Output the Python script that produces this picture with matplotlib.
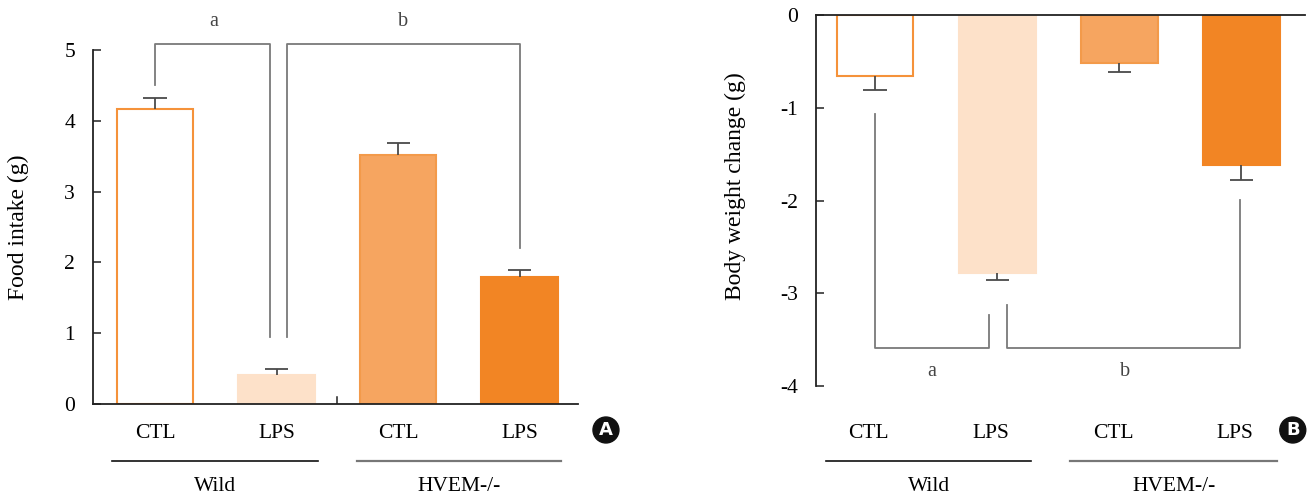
import matplotlib
matplotlib.use("Agg")
import matplotlib.pyplot as plt
import matplotlib.transforms as mtransforms

plt.rcParams["font.family"] = ["Liberation Serif", "DejaVu Serif"]

# data
conditions = ["CTL", "LPS", "CTL", "LPS"]
groups = ["Wild", "HVEM-/-"]
food_mean = [4.17, 0.41, 3.52, 1.80]
food_err = [0.15, 0.08, 0.17, 0.09]
weight_mean = [-0.65, -2.78, -0.52, -1.61]
weight_err = [0.16, 0.08, 0.09, 0.17]

FILLS = ["white", "#FDE1C9", "#F6A560", "#F28524"]
EDGES = ["#F5923A", "#FDE1C9", "#F39A4A", "#F28524"]
AXIS_COLOR = "#222222"
BRACKET_COLOR = "#7a7a7a"
ERR_COLOR = "#4a4a4a"
FS = 15.5

W, H = 1308, 498
fig = plt.figure(figsize=(W / 100, H / 100), dpi=100)


def px_axes(left, top, right, bottom):
    return fig.add_axes([left / W, 1 - bottom / H, (right - left) / W, (bottom - top) / H])


def fy(py):
    return 1 - py / H


def draw_bars(ax, means, errs, up):
    x = list(range(len(means)))
    ax.bar(x, means, width=0.63, color=FILLS, edgecolor=EDGES, linewidth=1.5, zorder=2)
    # one-sided error bars, cap only on the far end
    sign = 1 if up else -1
    ends = [m + sign * e for m, e in zip(means, errs)]
    ax.vlines(x, means, ends, color=ERR_COLOR, lw=1.3, zorder=3)
    ax.hlines(ends, [i - 0.095 for i in x], [i + 0.095 for i in x], color=ERR_COLOR, lw=1.3, zorder=3)


def bracket(ax, pts):
    xs, ys = zip(*pts)
    ax.plot(xs, ys, color=BRACKET_COLOR, lw=1.3, clip_on=False, zorder=1)


def under_labels(ax, label_dx, wild_span, hvem_span, badge_x, badge):
    tr = mtransforms.blended_transform_factory(ax.transData, fig.transFigure)
    for i, lab in enumerate(conditions):
        ax.text(i + label_dx, fy(433), lab, transform=tr, ha="center", va="center", fontsize=FS)
    ax.plot(wild_span, [fy(461)] * 2, transform=tr, color="#111111", lw=1.2, clip_on=False)
    ax.plot(hvem_span, [fy(461)] * 2, transform=tr, color="#777777", lw=1.6, clip_on=False)
    ax.text(sum(wild_span) / 2, fy(486), groups[0], transform=tr, ha="center", va="center", fontsize=FS)
    ax.text(sum(hvem_span) / 2, fy(486), groups[1], transform=tr, ha="center", va="center", fontsize=FS)
    ax.text(badge_x, fy(430), badge, transform=tr, ha="center", va="center", color="white",
            fontsize=13, fontweight="bold", family="DejaVu Sans",
            bbox=dict(boxstyle="circle,pad=0.22", fc="#111111", ec="#111111"))


# ---- panel A: food intake
axA = px_axes(93, 50, 578, 404)
draw_bars(axA, food_mean, food_err, up=True)
axA.set_xlim(-0.51, 3.48)
axA.set_ylim(0, 5)
axA.set_yticks(range(0, 6))
axA.set_xticks([])
for s in ["top", "right"]:
    axA.spines[s].set_visible(False)
for s in ["left", "bottom"]:
    axA.spines[s].set_color(AXIS_COLOR)
    axA.spines[s].set_linewidth(1.3)
axA.tick_params(axis="y", direction="in", length=6, width=1.1, color=AXIS_COLOR, pad=13, labelsize=FS)
axA.plot([1.5, 1.5], [0, 0.1], color=AXIS_COLOR, lw=1.1)
bracket(axA, [(0, 4.5), (0, 5.09), (0.945, 5.09), (0.945, 0.95)])
bracket(axA, [(1.085, 0.95), (1.085, 5.09), (3, 5.09), (3, 2.2)])
axA.text(0.48, 5.40, "a", ha="center", va="center", fontsize=FS - 1, color="#444444")
axA.text(2.04, 5.40, "b", ha="center", va="center", fontsize=FS - 1, color="#444444")
fig.text(18 / W, fy(227), "Food intake (g)", rotation=90, ha="center", va="center", fontsize=FS + 1.5)
under_labels(axA, 0, [-0.35, 1.34], [1.66, 3.34], 3.71, "A")

# ---- panel B: body weight change
axB = px_axes(816, 15.3, 1305, 386)
draw_bars(axB, weight_mean, weight_err, up=False)
axB.set_xlim(-0.483, 3.52)
axB.set_ylim(-4, 0)
axB.set_yticks(range(-4, 1))
axB.set_yticklabels([str(v) for v in range(-4, 1)])
axB.set_xticks([])
for s in ["bottom", "right"]:
    axB.spines[s].set_visible(False)
for s in ["left", "top"]:
    axB.spines[s].set_color(AXIS_COLOR)
    axB.spines[s].set_linewidth(1.3)
axB.tick_params(axis="y", direction="in", length=6, width=1.1, color=AXIS_COLOR, pad=13, labelsize=FS)
bracket(axB, [(0, -1.06), (0, -3.59), (0.93, -3.59), (0.93, -3.23)])
bracket(axB, [(1.08, -3.13), (1.08, -3.59), (2.99, -3.59), (2.99, -1.99)])
axB.text(0.46, -3.84, "a", ha="center", va="center", fontsize=FS - 1, color="#444444")
axB.text(2.05, -3.84, "b", ha="center", va="center", fontsize=FS - 1, color="#444444")
fig.text(735 / W, fy(186), "Body weight change (g)", rotation=90, ha="center", va="center", fontsize=FS + 1.5)
under_labels(axB, -0.05, [-0.40, 1.28], [1.60, 3.29], 3.42, "B")

fig.savefig("out.png", dpi=100, facecolor="white")
